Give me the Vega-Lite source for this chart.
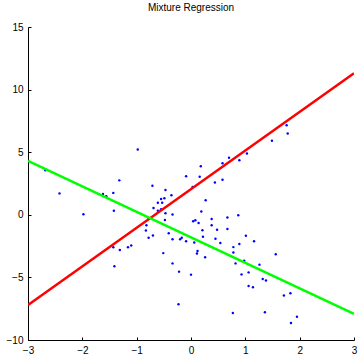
{
  "$schema": "https://vega.github.io/schema/vega-lite/v6.json",
  "width": 326,
  "height": 313,
  "autosize": {"type": "none"},
  "padding": {"left": 28, "top": 27, "right": 5, "bottom": 14},
  "background": "white",
  "title": {"text": "Mixture Regression", "fontSize": 10, "fontWeight": "normal", "font": "Liberation Sans", "color": "#000000", "offset": 9, "anchor": "middle"},
  "config": {
    "view": {"stroke": null},
    "axis": {"grid": false, "domainColor": "#000000", "tickColor": "#000000", "labelColor": "#000000", "labelFont": "Liberation Sans", "labelFontSize": 10, "tickSize": -3, "domainWidth": 1, "tickWidth": 1, "title": null}
  },
  "datasets": {
    "pts": [
      {"x": -2.68, "y": 3.55}, {"x": -1.32, "y": 2.75}, {"x": -2.42, "y": 1.71}, {"x": -1.62, "y": 1.66},
      {"x": -1.56, "y": 1.48}, {"x": -1.43, "y": 1.75}, {"x": -1.98, "y": 0.04}, {"x": -1.42, "y": 0.32},
      {"x": -0.98, "y": 5.22}, {"x": -0.71, "y": 2.32}, {"x": -0.47, "y": 1.98}, {"x": -0.36, "y": 1.56},
      {"x": -0.55, "y": 1.26}, {"x": -0.49, "y": 1.32}, {"x": -0.61, "y": 0.96}, {"x": -0.53, "y": 0.96},
      {"x": -0.69, "y": 0.54}, {"x": -0.61, "y": 0.32}, {"x": -0.55, "y": 0.45}, {"x": -0.47, "y": 0.12},
      {"x": -0.34, "y": 0.02}, {"x": -0.78, "y": -0.32}, {"x": -0.48, "y": -0.41}, {"x": -0.82, "y": -0.84},
      {"x": -0.83, "y": -1.25}, {"x": -0.78, "y": -1.83}, {"x": -0.70, "y": -1.65}, {"x": -0.41, "y": -1.48},
      {"x": -0.34, "y": -1.95}, {"x": -0.20, "y": -1.95}, {"x": -0.17, "y": -1.83}, {"x": -0.09, "y": -2.11},
      {"x": 0.06, "y": -2.21}, {"x": -1.43, "y": -2.59}, {"x": -1.31, "y": -2.81}, {"x": -1.16, "y": -2.59},
      {"x": -1.10, "y": -2.46}, {"x": -0.51, "y": -3.06}, {"x": -1.41, "y": -4.11}, {"x": 1.76, "y": 7.16},
      {"x": 1.78, "y": 6.5}, {"x": 1.49, "y": 5.91}, {"x": 1.03, "y": 4.90}, {"x": 0.89, "y": 4.35},
      {"x": 0.70, "y": 4.55}, {"x": 0.58, "y": 4.11}, {"x": 0.18, "y": 3.87}, {"x": -0.09, "y": 3.08},
      {"x": 0.16, "y": 3.04}, {"x": 0.44, "y": 2.58}, {"x": 0.58, "y": 2.80}, {"x": 0.03, "y": 2.23},
      {"x": 0.27, "y": 1.16}, {"x": 0.19, "y": 0.26}, {"x": 0.04, "y": -0.52}, {"x": 0.08, "y": -0.44},
      {"x": 0.14, "y": -0.65}, {"x": 0.38, "y": -0.33}, {"x": 0.38, "y": -0.84}, {"x": 0.67, "y": -0.22},
      {"x": 0.87, "y": -0.04}, {"x": 0.21, "y": -1.23}, {"x": 0.48, "y": -1.19}, {"x": 0.67, "y": -1.13},
      {"x": 0.22, "y": -1.75}, {"x": 0.45, "y": -1.91}, {"x": 0.54, "y": -2.25}, {"x": 1.01, "y": -1.67},
      {"x": 1.16, "y": -2.11}, {"x": 0.89, "y": -2.34}, {"x": 0.78, "y": -2.58}, {"x": 0.12, "y": -2.89},
      {"x": 0.11, "y": -3.09}, {"x": 0.26, "y": -3.39}, {"x": 0.78, "y": -3.01}, {"x": 1.56, "y": -3.15},
      {"x": -0.34, "y": -3.88}, {"x": -0.22, "y": -4.54}, {"x": 0.00, "y": -4.78}, {"x": 0.82, "y": -3.88},
      {"x": 0.98, "y": -3.67}, {"x": 1.26, "y": -3.98}, {"x": 0.93, "y": -4.76}, {"x": 1.06, "y": -4.60},
      {"x": 1.06, "y": -5.68}, {"x": 1.14, "y": -5.78}, {"x": 1.32, "y": -5.12}, {"x": 1.38, "y": -5.24},
      {"x": 1.71, "y": -6.45}, {"x": 1.83, "y": -6.26}, {"x": -0.23, "y": -7.15}, {"x": 0.77, "y": -7.85},
      {"x": 1.36, "y": -7.79}, {"x": 1.95, "y": -8.15}, {"x": 1.84, "y": -8.64}
    ],
    "lines": [
      {"x": -3, "y": -7.2, "comp": "red"}, {"x": 3, "y": 11.3, "comp": "red"},
      {"x": -3, "y": 4.31, "comp": "green"}, {"x": 3, "y": -7.91, "comp": "green"}
    ]
  },
  "layer": [
    {
      "data": {"name": "pts"},
      "mark": {"type": "point", "shape": "circle", "filled": true, "size": 6, "color": "#0000ff", "opacity": 1},
      "encoding": {
        "x": {"field": "x", "type": "quantitative", "scale": {"domain": [-3, 3], "nice": false, "zero": false}, "axis": {"values": [-3, -2, -1, 0, 1, 2, 3], "format": "d", "labelPadding": 8, "labelFlush": false}},
        "y": {"field": "y", "type": "quantitative", "scale": {"domain": [-10, 15], "nice": false, "zero": false}, "axis": {"values": [-10, -5, 0, 5, 10, 15], "format": "d", "labelPadding": 8}}
      }
    },
    {
      "data": {"name": "lines"},
      "mark": {"type": "line", "strokeWidth": 2.5, "clip": true},
      "encoding": {
        "x": {"field": "x", "type": "quantitative"},
        "y": {"field": "y", "type": "quantitative"},
        "detail": {"field": "comp"},
        "color": {"field": "comp", "type": "nominal", "scale": {"domain": ["red", "green"], "range": ["#ff0000", "#00ff00"]}, "legend": null}
      }
    }
  ]
}
